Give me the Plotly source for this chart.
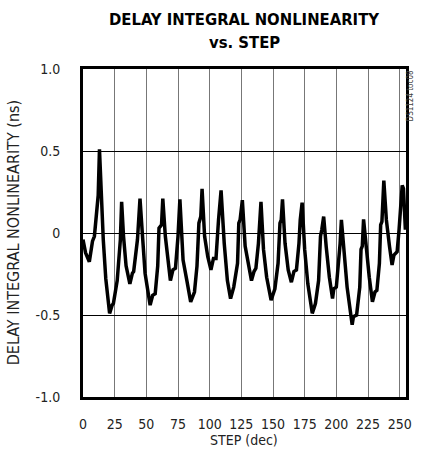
import plotly.graph_objects as go

step = [0, 2, 5, 7.5, 9, 11, 12, 13, 14.5, 16, 18, 21, 23, 24, 27, 29, 29.5, 30.5,
        32, 34, 37, 39, 40, 43, 45, 47, 49, 53, 55, 57, 59, 60, 62, 63,
        65, 69, 71, 73, 75, 76.5, 79, 82, 85, 88, 90, 91.5, 93, 94,
        96, 98.5, 101, 103, 105, 107, 109, 111.5, 114, 116.5, 119, 122, 123, 124, 125.8,
        128, 133, 135, 136.5, 138.5, 140.5, 142.5, 145, 148.5, 151.5, 154, 155.5, 156.5, 157.5,
        159.5, 162, 164.5, 166.5, 168.5, 170.5, 171.5, 173, 175, 177.5, 181, 183.5, 186, 187.5,
        188.5, 190, 192, 194.5, 197, 198, 200, 202, 203, 204, 206, 208.5, 212.5, 213.5, 216,
        218.5, 219.5, 220.5, 221.5, 223.5, 226, 228.5, 230.5, 232, 234, 235, 236, 237.5,
        239.5, 242, 244, 245.5, 248, 249.5, 251, 252, 253, 254.5]
inl = [-0.04, -0.12, -0.175, -0.05, -0.02, 0.14, 0.23, 0.51, 0.2, -0.04, -0.28, -0.49, -0.44, -0.43,
       -0.29, -0.08, -0.04, 0.19,
       -0.02, -0.2, -0.31, -0.245, -0.235, -0.04, 0.21, -0.02, -0.245, -0.44, -0.38, -0.37, -0.2,
       0.03, 0.05, 0.21,
       -0.02, -0.29, -0.225, -0.215, -0.02, 0.205, -0.165, -0.29, -0.42, -0.36, -0.2, 0.06, 0.1, 0.27,
       -0.02, -0.145, -0.225, -0.155, -0.155, 0.08, 0.26, -0.063, -0.29, -0.4, -0.33, -0.185, 0.06,
       0.08, 0.2,
       -0.08, -0.29, -0.235, -0.215, -0.063, 0.19, -0.1, -0.27, -0.41, -0.34, -0.185, 0.06, 0.08, 0.205,
       -0.063, -0.225, -0.3, -0.235, -0.225, -0.063, 0.08, 0.185, -0.1, -0.31, -0.49, -0.43, -0.29,
       -0.02,
       0.02, 0.1, -0.083, -0.27, -0.4, -0.34, -0.33, -0.185, -0.063, 0.08, -0.124, -0.33, -0.56, -0.51,
       -0.5,
       -0.33, -0.1, -0.08, 0.083, -0.083, -0.27, -0.42, -0.36, -0.35, -0.185, 0.05, 0.07, 0.32,
       0.08, -0.083, -0.195, -0.134, -0.114, 0.018, 0.16, 0.29, 0.27, 0.02]

x_ticks = [0, 25, 50, 75, 100, 125, 150, 175, 200, 225, 250]
y_ticks = [-1.0, -0.5, 0, 0.5, 1.0]
y_tick_labels = ["-1.0", "-0.5", "0", "0.5", "1.0"]

narrow = "Liberation Sans Narrow, Arial Narrow, DejaVu Sans Condensed, sans-serif"

L, R, T, B = 83, 10, 69, 62
W, H = 422, 459
PW, PH = W - L - R, H - T - B


def px_x(px):
    return (px - L) / PW


def px_y(py):
    return (H - B - py) / PH


fig = go.Figure()
fig.add_trace(go.Scatter(x=step, y=inl, mode="lines",
                         line=dict(color="black", width=3.5), showlegend=False,
                         hoverinfo="skip"))

fig.update_layout(
    width=W, height=H,
    margin=dict(l=L, r=R, t=T, b=B),
    paper_bgcolor="white", plot_bgcolor="white",
    font=dict(family=narrow, size=14, color="#222"),
)
fig.update_xaxes(range=[0, 255], tickvals=x_ticks, showgrid=True,
                 gridcolor="#777", gridwidth=1, zeroline=False,
                 showline=True, linecolor="black", linewidth=3, mirror=True,
                 ticks="", ticklabelstandoff=12,
                 tickfont=dict(family=narrow, size=14, color="#222"))
fig.update_yaxes(range=[-1.0, 1.0], tickvals=y_ticks, ticktext=y_tick_labels,
                 showgrid=True, gridcolor="black", gridwidth=1, zeroline=False,
                 showline=True, linecolor="black", linewidth=3, mirror=True,
                 ticks="", ticklabelstandoff=17,
                 tickfont=dict(family=narrow, size=14, color="#222"))

fig.add_annotation(text="<b>DELAY INTEGRAL NONLINEARITY</b>", xref="paper", yref="paper",
                   x=px_x(247), y=px_y(19), xanchor="center", yanchor="middle",
                   showarrow=False, font=dict(family=narrow, size=16.5, color="black"))
fig.add_annotation(text="<b>vs. STEP</b>", xref="paper", yref="paper",
                   x=px_x(247), y=px_y(43), xanchor="center", yanchor="middle",
                   showarrow=False, font=dict(family=narrow, size=16.5, color="black"))
fig.add_annotation(text="DELAY INTEGRAL NONLINEARITY (ns)", xref="paper", yref="paper",
                   x=px_x(12), y=px_y(233), xanchor="center", yanchor="middle",
                   textangle=-90, showarrow=False,
                   font=dict(family=narrow, size=16, color="#222"))
fig.add_annotation(text="STEP (dec)", xref="paper", yref="paper",
                   x=px_x(247), y=px_y(440), xanchor="center", yanchor="middle",
                   showarrow=False, font=dict(family=narrow, size=14, color="#222"))
fig.add_annotation(text="DS1124 toc08", xref="paper", yref="paper",
                   x=px_x(417), y=px_y(68), xanchor="center", yanchor="top",
                   textangle=-90, showarrow=False,
                   font=dict(family=narrow, size=8, color="#444"))

fig.write_html("out.html", config={"displayModeBar": False},
               post_script="document.body.style.margin='0';document.body.style.overflow='hidden';")
